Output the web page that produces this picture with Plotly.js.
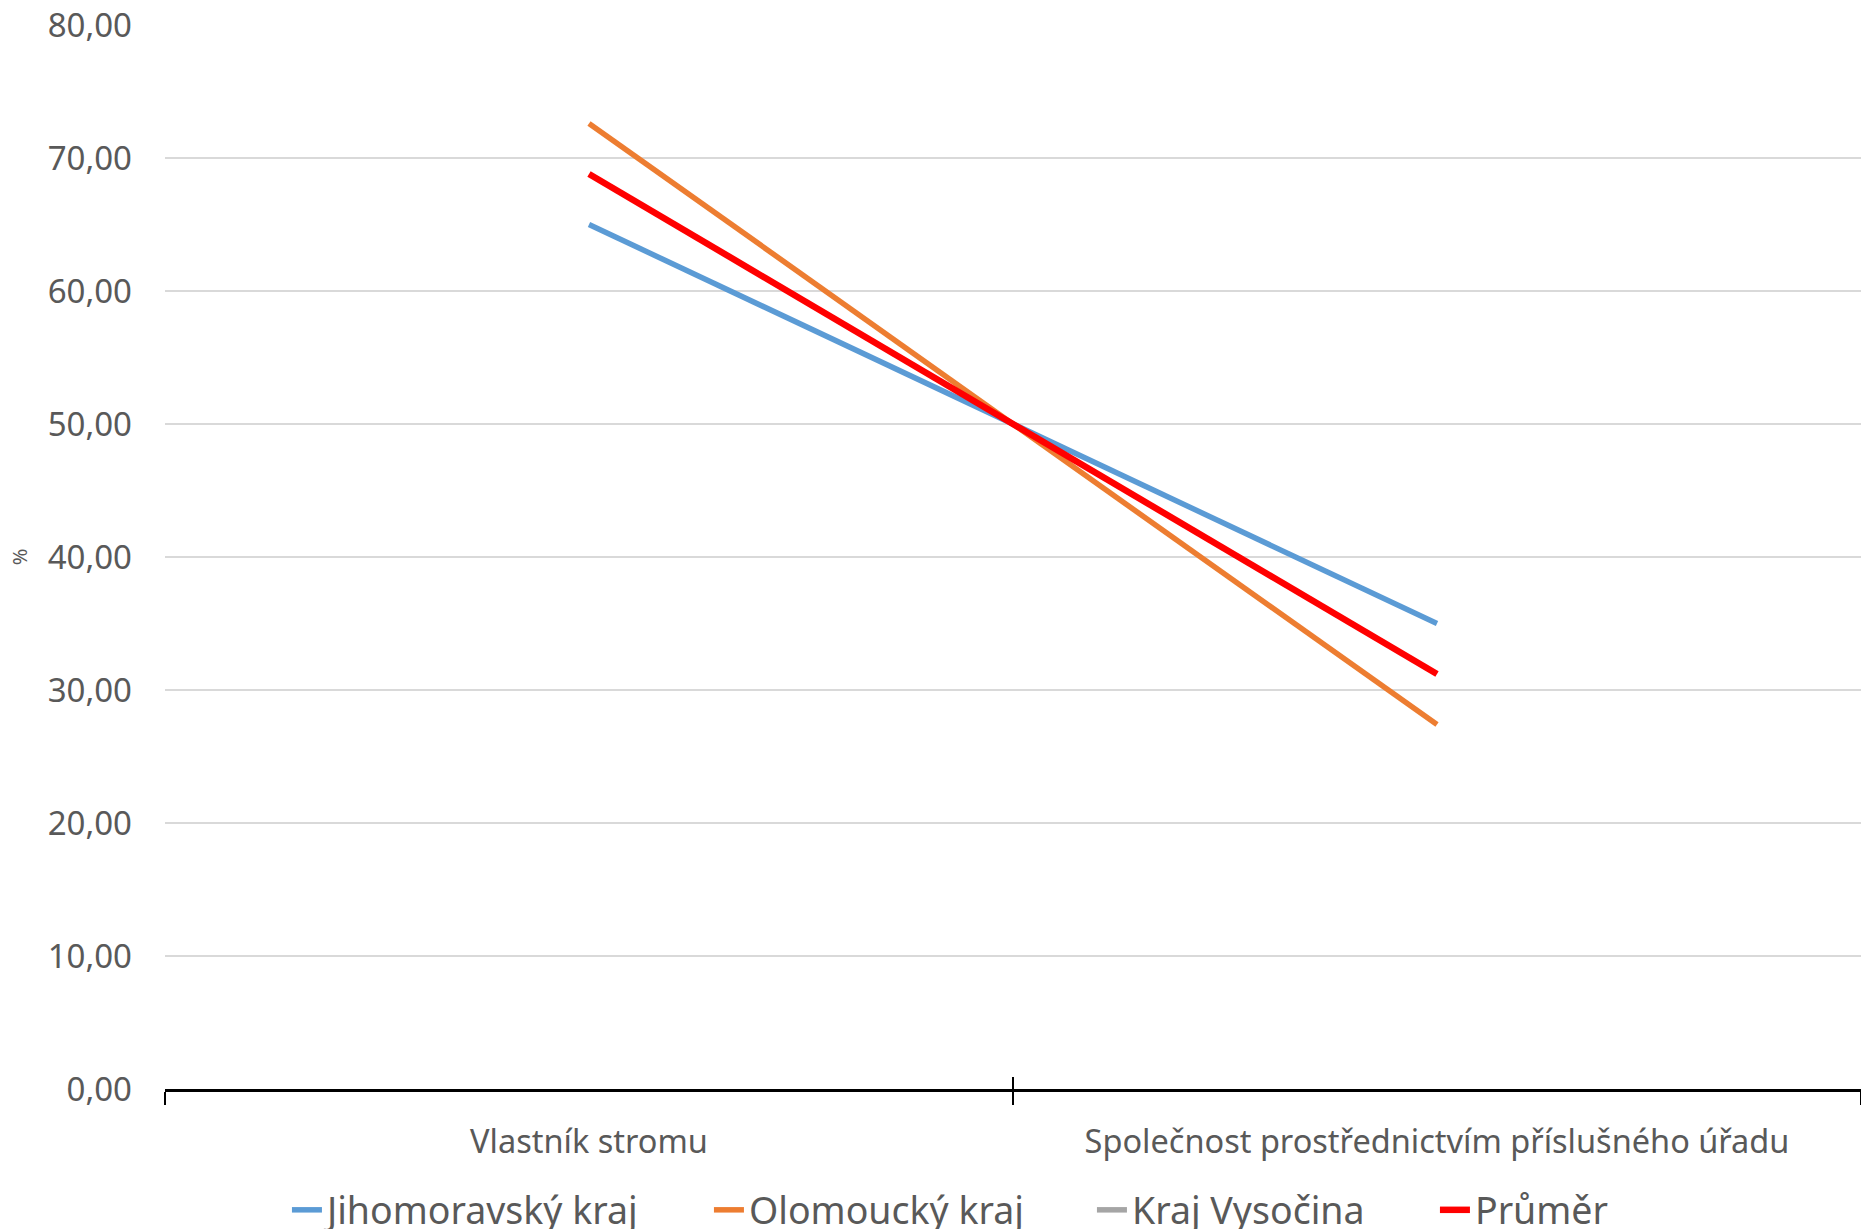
<!DOCTYPE html>
<html>
<head>
<meta charset="utf-8">
<script src="https://cdn.plot.ly/plotly-3.0.1.min.js"></script>
<style>html,body{margin:0;padding:0;background:#fff;}#chart{width:1861px;height:1229px;}</style>
</head>
<body>
<div id="chart"></div>
<script>
const categories = ["Vlastník stromu", "Společnost prostřednictvím příslušného úřadu"];
const seriesNames = ["Jihomoravský kraj", "Olomoucký kraj", "Kraj Vysočina", "Průměr"];
const jihomoravsky = [65.0, 35.0];
const olomoucky = [72.6, 27.4];
const vysocina = [null, null];
const prumer = [68.8, 31.2];
const yTicks = [0, 10, 20, 30, 40, 50, 60, 70, 80];

const colors = ["#5B9BD5", "#ED7D31", "#A5A5A5", "#FF0000"];
const widths = [5.5, 5.5, 5.5, 6.5];
const legendWidths = [377, 338, 298, null];
const values = [jihomoravsky, olomoucky, vysocina, prumer];

const traces = values.map((v, i) => {
  const t = {
    type: "scatter",
    mode: "lines",
    x: categories,
    y: v,
    name: seriesNames[i],
    xaxis: i === 2 ? "x2" : "x",
    line: {color: colors[i], width: widths[i], shape: "linear"},
    hoverinfo: "skip"
  };
  if (legendWidths[i]) t.legendwidth = legendWidths[i];
  return t;
});

const textColor = "#595959";
const fontFam = "Noto Sans, Liberation Sans, sans-serif";

const layout = {
  width: 1861, height: 1229,
  margin: {l: 165, r: 0, t: 25, b: 140, pad: 0, autoexpand: false},
  paper_bgcolor: "#ffffff",
  plot_bgcolor: "#ffffff",
  separators: ", ",
  showlegend: true,
  font: {family: fontFam, color: textColor},
  xaxis: {
    type: "category",
    range: [-0.5, 1.5],
    showline: true, linecolor: "#000000", linewidth: 2.5,
    showgrid: false, zeroline: false,
    ticks: "outside", tickson: "boundaries", ticklen: 13, tickwidth: 1.5, tickcolor: "#000000",
    ticklabelstandoff: 22,
    tickfont: {size: 32.5, color: textColor, family: fontFam},
    automargin: false,
    fixedrange: true
  },
  xaxis2: {
    type: "category",
    overlaying: "x", matches: "x", anchor: "y", side: "bottom",
    range: [-0.5, 1.5],
    showline: false, showgrid: false, zeroline: false,
    ticks: "inside", tickson: "boundaries", ticklen: 12, tickwidth: 1.5, tickcolor: "#000000",
    showticklabels: false
  },
  yaxis: {
    range: [0, 80],
    tickvals: yTicks,
    tickformat: ".2f",
    showline: false, zeroline: false,
    showgrid: true, gridcolor: "#D9D9D9", gridwidth: 2,
    ticks: "", ticklabelstandoff: 32,
    tickfont: {size: 33, color: textColor, family: fontFam},
    title: {text: "%", font: {size: 20, color: textColor, family: fontFam}, standoff: 14},
    automargin: false,
    fixedrange: true
  },
  legend: {
    orientation: "h",
    xref: "paper", x: 0.0719, xanchor: "left",
    yref: "container", y: 0.0155, yanchor: "middle",
    font: {size: 37.5, color: textColor, family: fontFam},
    itemwidth: 30,
    borderwidth: 0,
    bgcolor: "rgba(0,0,0,0)"
  }
};

Plotly.newPlot("chart", traces, layout, {staticPlot: true, displayModeBar: false});
</script>
</body>
</html>
